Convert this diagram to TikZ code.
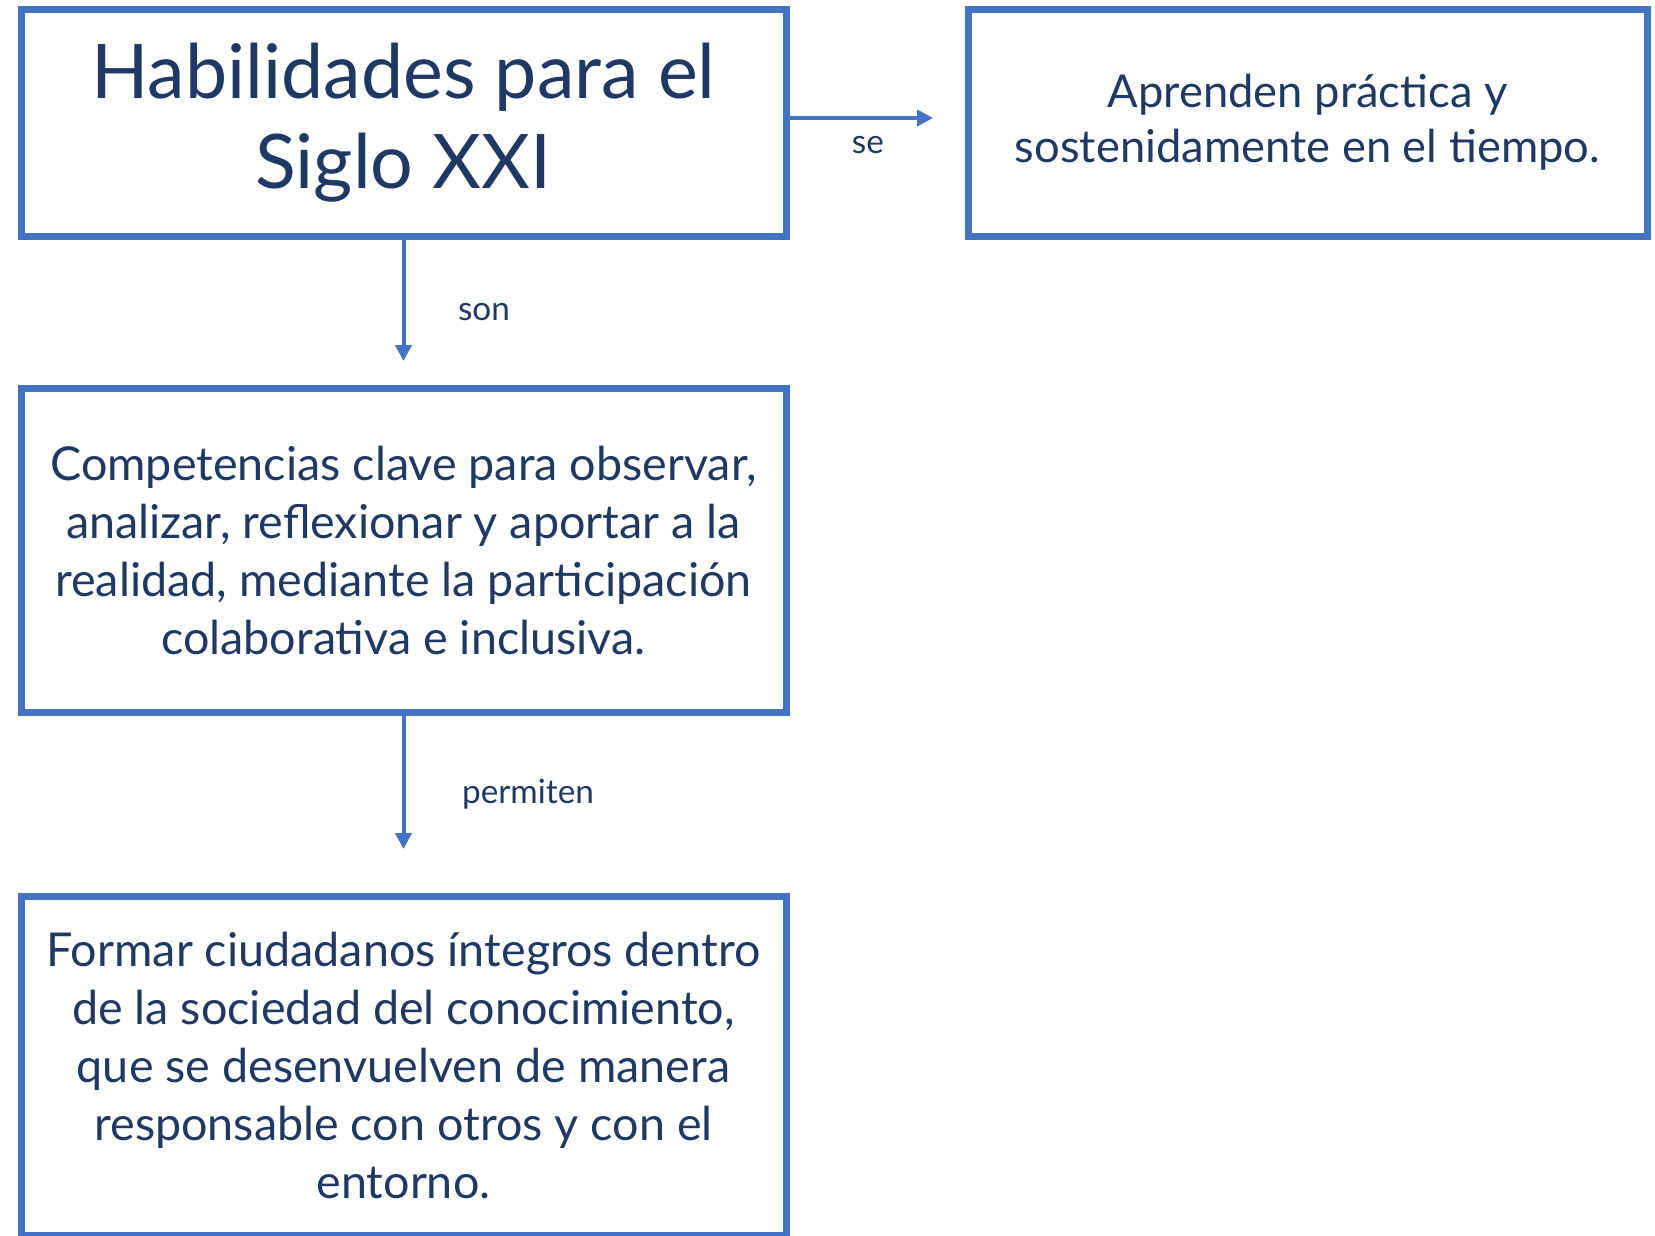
\documentclass[tikz,border=0pt]{standalone}
\usepackage{fontspec}
\setmainfont{Lato}
\usetikzlibrary{arrows.meta,positioning}

\definecolor{boxblue}{HTML}{4472C4}
\definecolor{inkblue}{HTML}{1F3864}

\tikzset{
    box/.style={draw=boxblue, line width=5.25pt, text=inkblue, align=center, inner sep=0pt},
    link/.style={draw=boxblue, line width=3pt, -{Triangle[length=12pt,width=12pt]}},
    tag/.style={text=inkblue, font=\fontsize{25}{30}\selectfont, inner sep=0pt}
}

\begin{document}
\begin{tikzpicture}[x=0.75pt, y=-0.75pt]

    % Page frame
    \useasboundingbox (0,0) rectangle (1655,1235);

    % Boxes
    \node[box, minimum width=573.75pt, minimum height=170.25pt,
          font=\fontsize{56.5}{67}\selectfont] (hab) at (403.5,122.5)
          {Habilidades para el\\Siglo XXI};
    \node[box, minimum width=509.25pt, minimum height=170.25pt,
          font=\fontsize{34}{41}\selectfont] (apr) at (1307.5,122.5)
          {Aprenden práctica y\\sostenidamente en el tiempo.};
    \node[box, minimum width=573.75pt, minimum height=243pt,
          font=\fontsize{35}{43.5}\selectfont] (comp) at (403.5,550)
          {Competencias clave para observar,\\analizar, reflexionar y aportar a la\\realidad, mediante la participación\\colaborativa e inclusiva.};
    \node[box, minimum width=573.75pt, minimum height=254.25pt,
          font=\fontsize{35}{43.5}\selectfont] (form) at (403.5,1065.5)
          {Formar ciudadanos íntegros dentro\\de la sociedad del conocimiento,\\que se desenvuelven de manera\\responsable con otros y con el\\entorno.};

    % Arrow ends
    \coordinate (seEnd) at (933,118);
    \coordinate (sonEnd) at (403.5,361);
    \coordinate (perEnd) at (403.5,849);

    % Connectors
    \draw[link] (hab.east |- seEnd) -- (seEnd);
    \draw[link] (hab.south) -- (sonEnd);
    \draw[link] (comp.south) -- (perEnd);

    % Labels
    \node[tag] (se) at (868,145) {se};
    \node[tag] (son) at (484,312) {son};
    \node[tag] (per) at (528,794) {permiten};

\end{tikzpicture}
\end{document}
